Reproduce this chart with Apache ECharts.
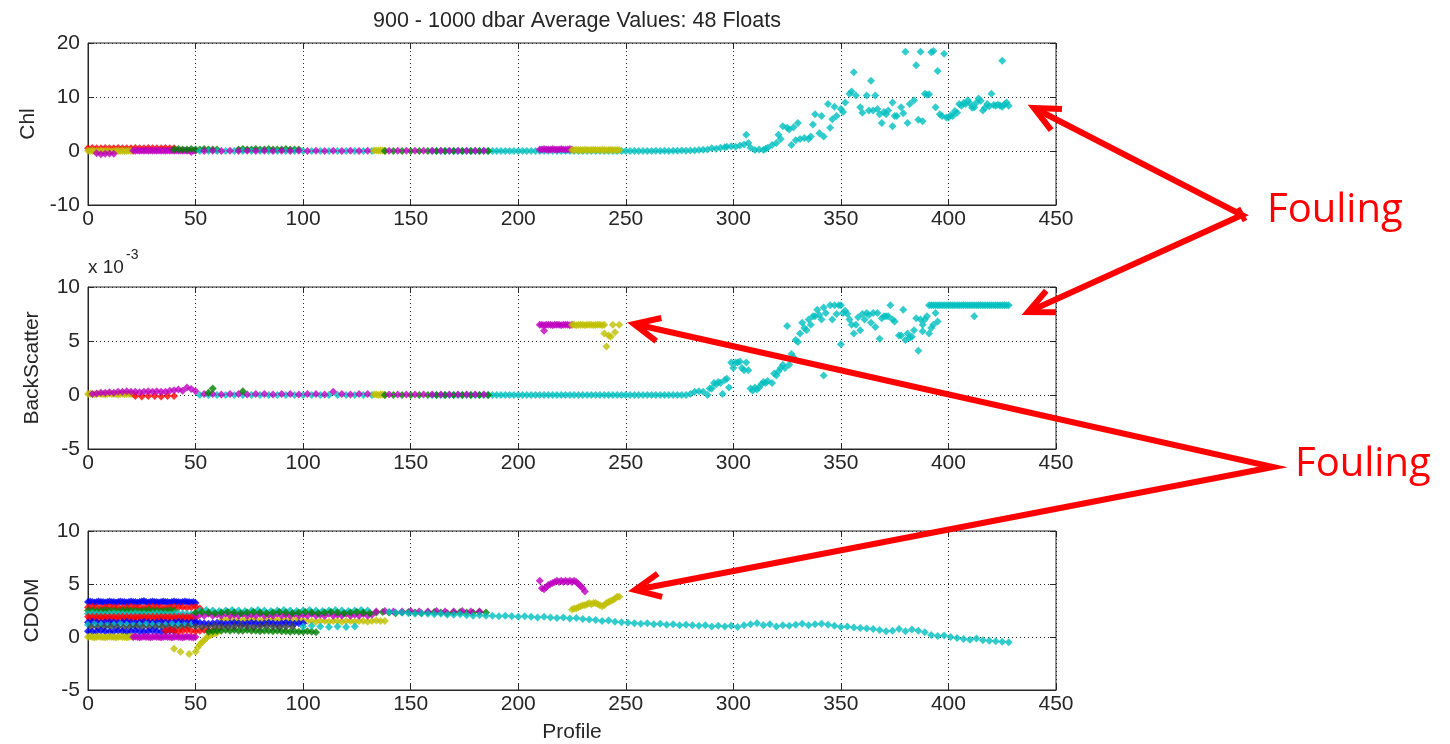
<!DOCTYPE html>
<html><head><meta charset="utf-8">
<script src="https://cdn.jsdelivr.net/npm/echarts@6/dist/echarts.min.js"></script>
<style>html,body{margin:0;padding:0;background:#fff}#c{width:1450px;height:744px}</style>
</head><body><div id="c"></div><script>
// ---------- axis ticks ----------
const xTicks = [0,50,100,150,200,250,300,350,400,450];
const chlTicks = [-10,0,10,20];
const bbTicks = [-5,0,5,10];      // BackScatter in units of 10^-3
const cdTicks = [-5,0,5,10];

// ---------- Chl (panel 1) ----------  runs: [startProfile, step, values]
const chlRed      = [0, 2, [0.5,0.55,0.5,0.5,0.55,0.5,0.5,0.55,0.5,0.5,0.5,0.55,0.5,0.5,0.55,0.5,0.5,0.5,0.55,0.5,0.5]];
const chlYellowA  = [0, 1, [0.05,0,0.05,0,-0.05,0,0.05,0,0,0.05,0,-0.05,0,0.05,0,0,0.05,0,0,0.05,0,0]];
const chlMagentaA = [4, 2, [-0.4,-0.6,-0.5,-0.45,-0.5]];
const chlMagentaB = [21, 1, [0.1,0.05,0.1,0.05,0.1,0.05,0.1,0.05,0.1,0.05,0.1,0.05,0.1,0.05,0.1,0.05,0.1,0.05,0.1,0.05,0.1,0.05,0.1,0.05,0.1,0.05,0.1,-0.2,0.1,0.05]];
const chlGreenA   = [40, 2, [0.3,0.35,0.3,0.3,0.35,0.3,0.3,0.35,0.3,0.3,0.3]];
const chlGreenB   = [70, 2, [0.3,0.35,0.3,0.3,0.35,0.3,0.3,0.35,0.3,0.3,0.3,0.35,0.3,0.3,0.3]];
const chlCyanA    = [52, 4, [0,0,0,0,0,0,0,0,0,0,0,0,0,0,0,0,0,0,0,0,0]];
const chlMagentaC = [54, 4, [0,0.05,0,0.05,0,0.05,0,0.05,0,0.05,0,0.05,0,0.05,0,0.05,0,0.05,0,0.05]];
const chlYellowB  = [133, 1, [0.1,0.1,0.05,0.1,0.1,0.05]];
const chlCyanB    = [160, 2, [0,0,0,0,0,0,0,0,0,0,0,0,0,0,0,0,0,0,0,0,0,0,0,0,0,0,0,0,0,0,0,0,0,0,0,0,0,0,0,0,0,0,0,0,0,0,0,0,0,0,0,0,0.05,0,0.05,0,0.05,0.05,0.1,0.05,0.1,0.1,0.2,0.25,0.3,0.5,0.4,0.6,0.7]];
const chlGreenC   = [138, 4, [0,0,0,0,0,0,0,0,0,0,0,0,0]];
const chlMagentaD = [140, 4, [0.05,0.05,0.05,0.05,0.05,0.05,0.05,0.05,0.05,0.05,0.05,0.05]];
const chlMagentaE = [210, 1, [0.3,0.3,0.35,0.3,0.3,0.3,0.35,0.3,0.3,0.3,0.35,0.3,0.3,0.3,0.35,0.3]];
const chlYellowC  = [225, 1, [0.2,0.2,0.25,0.2,0.2,0.2,0.25,0.2,0.2,0.2,0.25,0.2,0.2,0.2,0.25,0.2,0.2,0.2,0.25,0.2,0.2,0.2,0.2]];
const chlCyanFoulX = [297,299,301,303,305,306,307,308,310,312,314,315,316,318,320,321,322,323,325,326,327,328,329,330,331,333,335,336,337,338,340,341,342,344,345,346,347,348,350,351,352,354,355,356,357,359,360,362,363,364,365,366,367,368,369,370,371,372,374,374,375,376,378,379,380,381,382,384,385,386,387,388,389,390,391,392,393,394,395,396,397,398,399,400,401,402,403,404,405,406,407,408,409,410,411,412,413,414,415,416,417,418,419,420,421,422,423,424,425,426,427,425,428];
const chlCyanFoulY = [0.8,0.9,0.8,1.0,1.2,3.0,1.5,0.6,0.2,0.3,0.2,0.4,0.6,1.1,1.5,3.0,2.2,4.6,4.3,4.0,1.1,4.4,2.0,5.2,2.2,2.4,2.2,2.7,4.9,6.8,3.3,6.5,2.7,8.7,4.3,5.9,8.2,6.5,7.8,7.2,9.0,10.6,11.0,14.6,10.3,8.1,7.1,10.3,7.5,13.0,7.5,10.3,7.8,6.8,5.2,7.2,6.8,7.5,9.0,4.6,6.5,6.5,8.1,7.0,18.4,5.2,8.7,9.4,15.9,5.8,18.4,5.5,10.6,10.4,10.5,18.3,18.5,8.1,14.8,6.8,6.5,18.0,6.2,6.2,6.6,6.5,7.4,7.1,8.7,8.4,8.9,8.7,9.4,8.8,8.0,8.1,9.0,9.7,9.3,7.5,8.0,8.7,8.3,10.6,8.5,8.4,8.6,8.4,8.2,8.6,9.0,16.7,8.4];

// ---------- BackScatter (panel 2, x 10^-3) ----------
const bbYellowA  = [0, 1, [0.1,0.15,0.1,0.05,0.1,0.15,0.1,0.1,0.05,0.1,0.15,0.1,0.1,0.1,0.05,0.1,0.15,0.1,0.1,0.1,0.1,0.1]];
const bbRedA     = [22, 3, [-0.1,-0.15,-0.1,-0.1,-0.15,-0.1,-0.1]];
const bbMagentaA = [2, 2, [0.1,0.15,0.2,0.2,0.25,0.2,0.3,0.3,0.35,0.3,0.3,0.25,0.3,0.35,0.3,0.35,0.3,0.3,0.4,0.45,0.5,0.4,0.7,0.55,0.35]];
const bbCyanA    = [52, 4, [0,0,0,0,0,0,0,0,0,0,0,0,0,0,0,0,0,0,0,0,0]];
const bbMagentaB = [54, 4, [0.1,0.1,0.05,0.1,0.1,0.05,0.1,0.1,0.05,0.1,0.1,0.05,0.1,0.1,0.05,0.3,0.1,0.05,0.1,0.1]];
const bbGreenX   = [56,58,72];
const bbGreenY   = [0.2,0.6,0.35];
const bbYellowB  = [133, 1, [0.05,0.05,0,0.05,0.05,0]];
const bbCyanB    = [160, 2, [0,0,0,0,0,0,0,0,0,0,0,0,0,0,0,0,0,0,0,0,0,0,0,0,0,0,0,0,0,0,0,0,0,0,0,0,0,0,0,0,0,0,0,0,0,0,0,0,0,0,0,0,0,0,0,0,0,0,0,0,0.1,0.3,0.35]];
const bbGreenC   = [138, 4, [0,0,0,0,0,0,0,0,0,0,0,0,0]];
const bbMagentaD = [140, 4, [0.05,0.05,0.05,0.05,0.05,0.05,0.05,0.05,0.05,0.05,0.05,0.05]];
const bbMagentaE = [210, 1, [6.5,6.5,6.45,6.5,6.5,6.5,6.45,6.5,6.5,6.5,6.45,6.5,6.5,6.5,6.45,6.5]];
const bbMagentaX = [212];
const bbMagentaY = [5.95];
const bbYellowC  = [225, 1, [6.5,6.5,6.45,6.5,6.5,6.5,6.45,6.5,6.5,6.5,6.45,6.5,6.5,6.5,6.45,6.5]];
const bbYellowX  = [240,241,242,243,244,245,247];
const bbYellowY  = [5.7,4.5,5.5,5.4,6.5,5.8,6.5];
const bbCyanFoulX = [286,288,289,290,291,292,293,294,295,296,297,298,299,300,301,302,303,304,305,306,307,308,309,310,311,312,313,314,315,316,318,319,320,321,322,323,324,325,326,327,328,329,330,331,332,333,334,335,336,337,338,339,340,341,342,342,343,345,346,347,348,349,350,350,351,352,353,354,355,356,357,358,359,360,361,362,363,364,365,366,367,368,369,370,371,372,373,374,375,377,378,379,380,381,382,383,384,385,386,387,388,388,389,390,391,392,393,394,395,412];
const bbCyanFoulY = [0.3,0.0,0.6,0.6,1.1,1.0,1.2,1.1,0.1,1.4,1.5,0.7,3.0,2.5,3.0,3.0,3.1,2.5,2.3,3.0,2.3,0.6,0.4,0.7,0.5,0.7,1.0,1.2,1.1,1.3,1.1,2.0,1.8,2.2,2.5,2.8,2.5,6.4,2.8,3.8,3.5,5.1,4.9,5.7,6.7,6.2,6.0,7.0,6.5,7.3,7.3,7.9,7.4,7.0,8.1,1.8,7.6,8.3,7.0,8.3,7.5,8.3,8.3,4.7,7.6,7.8,7.5,7.0,6.5,5.7,6.5,7.2,6.0,7.5,7.0,7.6,7.4,6.7,7.6,6.3,7.6,5.2,7.1,7.3,7.3,7.3,8.3,7.0,6.8,5.5,5.5,7.9,5.1,5.7,5.3,5.4,6.0,7.1,4.1,7.0,5.9,6.5,7.0,7.3,5.7,6.2,6.5,7.6,6.8,7.3];
const bbCyanFlat = [391, 1, [8.3,8.3,8.3,8.3,8.3,8.3,8.3,8.3,8.3,8.3,8.3,8.3,8.3,8.3,8.3,8.3,8.3,8.3,8.3,8.3,8.3,8.3,8.3,8.3,8.3,8.3,8.3,8.3,8.3,8.3,8.3,8.3,8.3,8.3,8.3,8.3,8.3,8.3]];

// ---------- CDOM (panel 3) ----------
const cdBlueA    = [0, 1, [3.3,3.35,3.3,3.25,3.3,3.35,3.3,3.3,3.25,3.3,3.35,3.3,3.3,3.25,3.3,3.35,3.3,3.3,3.25,3.3,3.35,3.3,3.3,3.25,3.3,3.35,3.4,3.3,3.25,3.3,3.35,3.3,3.3,3.25,3.3,3.35,3.3,3.3,3.25,3.3,3.35,3.3,3.3,3.25,3.3,3.35,3.3,3.3,3.25,3.3,3.2]];
const cdRedA     = [0, 2, [2.8,2.85,2.8,2.75,2.8,2.85,2.8,2.8,2.75,2.8,2.85,2.8,2.8,2.75,2.8,2.85,2.8,2.8,2.75,2.8,2.85,2.8,2.8,2.75,2.8,2.85,2.7]];
const cdGreenA   = [0, 2, [2.5,2.5,2.45,2.5,2.55,2.5,2.5,2.45,2.5,2.55,2.5,2.5,2.45,2.5,2.55,2.5,2.5,2.45,2.5,2.55,2.5]];
const cdCyanA    = [0, 2, [2.2,2.25,2.2,2.2,2.15,2.2,2.25,2.2,2.2,2.15,2.2,2.25,2.2,2.2,2.15,2.2,2.25,2.2,2.2,2.15,2.2,2.25,2.2,2.2,2.15,2.2]];
const cdRedB     = [0, 1, [1.9,1.7,1.9,1.7,1.9,1.7,1.9,1.7,1.9,1.7,1.9,1.7,1.9,1.7,1.9,1.7,1.9,1.7,1.9,1.7,1.9,1.7,1.9,1.7,1.9,1.7,1.9,1.7,1.9,1.7,1.9,1.7,1.9,1.7,1.9,1.7,1.9,1.7,1.9,1.7,1.9,1.7,1.9,1.7,1.9,1.7,1.9,1.7,1.9,1.7,1.8]];
const cdBlueB    = [0, 2, [1.4,1.45,1.4,1.35,1.4,1.45,1.4,1.35,1.4,1.45,1.4,1.35,1.4,1.45,1.4,1.35,1.4,1.45,1.4,1.35,1.4,1.45,1.4,1.35,1.4,1.45]];
const cdCyanB    = [0, 3, [1.15,1.2,1.15,1.1,1.15,1.2,1.15,1.1,1.15,1.2,1.15,1.1,1.15,1.2,1.15,1.1,1.15]];
const cdDarkA    = [1.5, 3, [0.95,0.9,0.95,1.0,0.95,0.9,0.95,1.0,0.95,0.9,0.95,1.0,0.95,0.9,0.95,1.0]];
const cdBlueC    = [0, 2, [0.55,0.5,0.55,0.6,0.55,0.5,0.55,0.6,0.55,0.5,0.55,0.6,0.55,0.5,0.55,0.6,0.55,0.5,0.55,0.6,0.55]];
const cdYellowA  = [0, 1, [0,0.05,0,-0.05,0,0.05,0,0,-0.05,0,0.05,0,0,-0.05,0,0.05,0,0,-0.05,0,0.05,0]];
const cdMagentaA = [21, 1, [0,0.05,0,-0.05,0,0.05,0,0,-0.05,0,0.05,0,0,-0.05,0,0.05,0,0,-0.05,0,0.05,0,0,-0.05,0,0.05,0,0,-0.05,0]];
const cdRedC     = [36, 2, [0.6,0.65,0.6,0.55,0.6,0.65,0.6,0.55,0.6,0.65,0.6,0.6,0.65]];
const cdYellowDipX = [40,43,47,50,51,52,53,54,55,56,57,58,59,60];
const cdYellowDipY = [-1.1,-1.4,-1.6,-1.4,-1.0,-0.7,-0.5,-0.3,-0.1,0.1,0.2,0.3,0.35,0.4];
const cdYellowB  = [62, 2, [1.6,1.6,1.65,1.6,1.55,1.6,1.6,1.65,1.6,1.55,1.6,1.6,1.65,1.6,1.55,1.6,1.6,1.65,1.6,1.55,1.5,1.5,1.45,1.5,1.5,1.45,1.5,1.5,1.45,1.5,1.5,1.45,1.5,1.5,1.45,1.5,1.55,1.5,1.5]];
const cdGreenB   = [56, 2, [0.5,0.55,0.6,0.6,0.65,0.6,0.65,0.6,0.6,0.65,0.6,0.6,0.55,0.6,0.6,0.55,0.6,0.55,0.55,0.5,0.55,0.5,0.5,0.55,0.5,0.45]];
const cdBlueD    = [50, 2, [1.3,1.35,1.3,1.25,1.3,1.35,1.3,1.25,1.3,1.35,1.3,1.25,1.3,1.35,1.3,1.25,1.3,1.35,1.3,1.25,1.3,1.35,1.3,1.25,1.3,1.3]];
const cdDarkB    = [50, 3, [1.0,0.95,1.0,1.05,1.0,0.95,1.0,1.05,1.0,0.95,1.0,1.05,1.0,0.95,1.0,1.0]];
const cdMagentaB = [50, 2, [2.0,2.1,2.0,2.2,2.0,2.1,2.0,2.2,2.0,2.1,2.0,2.2,2.0,2.1,2.0,2.2,2.0,2.1,2.0,2.2,2.0,2.1,2.0,2.2,2.0,2.1,2.0,2.2,2.0,2.1,2.0,2.2,2.0,2.1,2.0,2.2,2.0,2.1,2.0,2.2,2.0,2.1]];
const cdCyanC    = [52, 3, [2.5,2.55,2.5,2.45,2.5,2.55,2.5,2.45,2.5,2.55,2.5,2.45,2.5,2.55,2.5,2.45,2.5,2.55,2.5,2.45,2.5,2.55,2.5,2.45,2.5,2.55,2.5]];
const cdGreenC   = [50, 3, [2.3,2.35,2.3,2.25,2.3,2.35,2.3,2.25,2.3,2.35,2.3,2.25,2.3,2.35,2.3,2.25,2.3,2.35,2.3,2.25,2.3,2.35,2.3,2.25,2.3,2.35,2.3,2.25,2.3,2.35,2.3,2.25,2.3,2.35,2.3,2.25,2.3,2.35,2.3,2.25,2.3,2.35,2.3,2.3,2.35,2.3]];
const cdCyanD    = [100, 4, [1.0,1.05,1.0,0.95,1.0,0.95,1.0]];
const cdMagentaC = [134, 4, [2.4,2.45,2.4,2.4,2.45,2.4,2.4,2.45,2.4,2.4,2.45,2.4,2.4]];
const cdCyanMain = [140, 3, [2.35,2.3,2.3,2.25,2.2,2.25,2.2,2.15,2.2,2.1,2.1,2.15,2.05,2.0,2.05,2.0,2.0,1.95,2.0,1.95,1.9,1.95,1.9,1.85,1.9,1.85,1.8,1.85,1.75,1.8,1.7,1.65,1.6,1.5,1.55,1.45,1.4,1.35,1.3,1.25,1.3,1.2,1.25,1.15,1.2,1.1,1.15,1.1,1.05,1.1,1.0,1.05,1.0,1.05,0.95,1.1,1.2,1.3,1.1,1.2,1.0,1.1,1.05,1.15,1.25,1.1,1.2,1.25,1.15,1.05,0.95,1.0,0.9,0.85,0.8,0.75,0.65,0.55,0.6,0.75,0.55,0.7,0.6,0.45,0.2,0.1,0.15,0.0,-0.1,-0.2,-0.25,-0.15,-0.3,-0.35,-0.4,-0.45,-0.5]];
const cdMagentaFoul = [210, 1, [5.3,4.6,4.5,4.7,4.9,5.0,5.1,5.2,5.3,5.2,5.3,5.2,5.3,5.2,5.3,5.2,5.3,5.2,5.0,4.8,4.6,4.3]];
const cdYellowFoul  = [225, 1, [2.6,2.7,2.7,2.8,2.9,3.0,3.0,3.1,3.2,3.1,3.2,3.2,3.1,3.0,2.9,3.0,3.2,3.3,3.4,3.5,3.6,3.8,3.8]];

// ---------- build ----------
const COL = {b:'#0000ff', g:'#008000', r:'#ff0000', c:'#00bfbf', m:'#bf00bf', y:'#bfbf00', k:'#404040'};
const run = (r) => r[2].map((v, i) => [r[0] + i * r[1], v]);
const pairs = (xs, ys) => xs.map((x, i) => [x, ys[i]]);

const panels = [
  [['r',run(chlRed)],['y',run(chlYellowA)],['m',run(chlMagentaA)],['m',run(chlMagentaB)],['g',run(chlGreenA)],['g',run(chlGreenB)],
   ['c',run(chlCyanA)],['m',run(chlMagentaC)],['y',run(chlYellowB)],['c',run(chlCyanB)],['g',run(chlGreenC)],['m',run(chlMagentaD)],
   ['m',run(chlMagentaE)],['y',run(chlYellowC)],['c',pairs(chlCyanFoulX, chlCyanFoulY)]],
  [['y',run(bbYellowA)],['r',run(bbRedA)],['m',run(bbMagentaA)],['c',run(bbCyanA)],['m',run(bbMagentaB)],['g',pairs(bbGreenX,bbGreenY)],
   ['y',run(bbYellowB)],['c',run(bbCyanB)],['g',run(bbGreenC)],['m',run(bbMagentaD)],['m',run(bbMagentaE)],['m',pairs(bbMagentaX,bbMagentaY)],
   ['y',run(bbYellowC)],['y',pairs(bbYellowX,bbYellowY)],['c',pairs(bbCyanFoulX,bbCyanFoulY)],['c',run(bbCyanFlat)]],
  [['b',run(cdBlueA)],['r',run(cdRedA)],['g',run(cdGreenA)],['c',run(cdCyanA)],['r',run(cdRedB)],['b',run(cdBlueB)],['c',run(cdCyanB)],
   ['k',run(cdDarkA)],['b',run(cdBlueC)],['y',run(cdYellowA)],['m',run(cdMagentaA)],['r',run(cdRedC)],['y',pairs(cdYellowDipX,cdYellowDipY)],
   ['y',run(cdYellowB)],['g',run(cdGreenB)],['b',run(cdBlueD)],['k',run(cdDarkB)],['m',run(cdMagentaB)],['c',run(cdCyanC)],['g',run(cdGreenC)],
   ['c',run(cdCyanD)],['m',run(cdMagentaC)],['c',run(cdCyanMain)],['m',run(cdMagentaFoul)],['y',run(cdYellowFoul)]]
];

const FONT = 'Liberation Sans';
const TXT = '#262626';
const gridTops = [43, 287, 531];
const yRanges = [chlTicks, bbTicks, cdTicks];
const yNames = ['Chl', 'BackScatter', 'CDOM'];

const grids = gridTops.map(t => ({left: 88, width: 968, top: t, height: 162, show: true, borderColor: TXT, borderWidth: 1, backgroundColor: '#fff'}));
const xAxes = [], yAxes = [];
for (let i = 0; i < 3; i++) {
  xAxes.push({gridIndex: i, type: 'value', min: xTicks[0], max: xTicks[xTicks.length-1], interval: 50,
    axisLine: {show: true, onZero: false, lineStyle: {color: TXT}}, axisTick: {inside: true, length: 6, lineStyle: {color: TXT}},
    axisLabel: {color: TXT, fontFamily: FONT, fontSize: 21, margin: 4},
    splitLine: {show: true, lineStyle: {color: TXT, type: [1, 3], width: 1}},
    name: i === 2 ? 'Profile' : '', nameLocation: 'middle', nameGap: 32, nameTextStyle: {color: TXT, fontFamily: FONT, fontSize: 21}});
  const yr = yRanges[i];
  yAxes.push({gridIndex: i, type: 'value', min: yr[0], max: yr[yr.length-1], interval: yr[1]-yr[0],
    axisLine: {show: true, onZero: false, lineStyle: {color: TXT}}, axisTick: {inside: true, length: 6, lineStyle: {color: TXT}},
    axisLabel: {color: TXT, fontFamily: FONT, fontSize: 21, margin: 8},
    splitLine: {show: true, lineStyle: {color: TXT, type: [1, 3], width: 1}},
    name: yNames[i], nameLocation: 'middle', nameRotate: 90, nameGap: 45, nameTextStyle: {color: TXT, fontFamily: FONT, fontSize: 21}});
}
for (let i = 0; i < 3; i++) {
  const yr = yRanges[i];
  xAxes.push({gridIndex: i, type: 'value', position: 'top', min: 0, max: 450, interval: 50,
    axisLine: {show: false, onZero: false}, axisTick: {inside: true, length: 6, lineStyle: {color: TXT}}, axisLabel: {show: false}, splitLine: {show: false}});
  yAxes.push({gridIndex: i, type: 'value', position: 'right', min: yr[0], max: yr[yr.length-1], interval: yr[1]-yr[0],
    axisLine: {show: false, onZero: false}, axisTick: {inside: true, length: 6, lineStyle: {color: TXT}}, axisLabel: {show: false}, splitLine: {show: false}});
}

const series = [];
panels.forEach((list, gi) => list.forEach(([c, data]) => {
  series.push({type: 'scatter', xAxisIndex: gi, yAxisIndex: gi, data, symbol: 'diamond', symbolSize: 8,
    itemStyle: {color: COL[c]}, silent: true, animation: false});
}));

// ---------- annotation arrows ----------
function head(from, tip, len, ang) {
  const a = Math.atan2(from[1] - tip[1], from[0] - tip[0]);
  return [[tip[0] + len*Math.cos(a+ang), tip[1] + len*Math.sin(a+ang)], tip, [tip[0] + len*Math.cos(a-ang), tip[1] + len*Math.sin(a-ang)]];
}
const RED = '#ff0000';
const LS = {stroke: RED, lineWidth: 6, fill: null, lineJoin: 'miter'};
const v1 = [1242, 215], t1a = [1034, 108], t1b = [1028, 312];
const v2 = [1273, 467], t2a = [634, 324], t2b = [635, 590];
const ang = 25 * Math.PI / 180;
const graphic = [
  {type: 'polyline', shape: {points: [t1a, v1, t1b]}, style: LS, z: 100},
  {type: 'polyline', shape: {points: head(v1, t1a, 28, ang)}, style: LS, z: 100},
  {type: 'polyline', shape: {points: head(v1, t1b, 28, ang)}, style: LS, z: 100},
  {type: 'line', shape: {x1: 1238, y1: 208, x2: 1245, y2: 221}, style: {stroke: RED, lineWidth: 5}, z: 100},
  {type: 'polyline', shape: {points: [t2a, v2, t2b]}, style: LS, z: 100},
  {type: 'polyline', shape: {points: head(v2, t2a, 28, ang)}, style: LS, z: 100},
  {type: 'polyline', shape: {points: head(v2, t2b, 28, ang)}, style: LS, z: 100},
  {type: 'text', left: 1267, top: 191, style: {text: 'Fouling', fill: RED, font: '40px "Open Sans"'}, z: 100},
  {type: 'text', left: 1295, top: 445, style: {text: 'Fouling', fill: RED, font: '40px "Open Sans"'}, z: 100},
  {type: 'text', left: 88, top: 258, style: {text: 'x 10', fill: TXT, font: '19px "Liberation Sans"'}},
  {type: 'text', left: 126, top: 248, style: {text: '-3', fill: TXT, font: '14px "Liberation Sans"'}}
];

const chart = echarts.init(document.getElementById('c'), null, {renderer: 'canvas'});
chart.setOption({
  animation: false,
  backgroundColor: '#fff',
  title: {text: '900 - 1000 dbar Average Values: 48 Floats', left: 572, top: 5, textAlign: 'center',
    textStyle: {color: TXT, fontFamily: FONT, fontSize: 21.5, fontWeight: 'normal'}},
  grid: grids, xAxis: xAxes, yAxis: yAxes, series, graphic
});
</script></body></html>
